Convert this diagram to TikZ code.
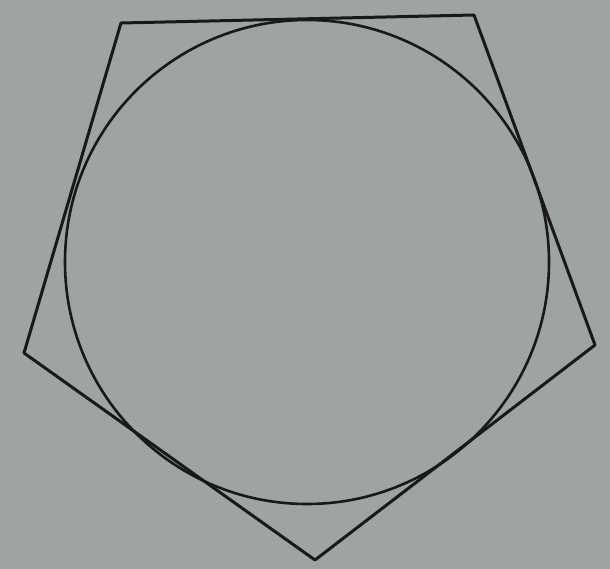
\documentclass[tikz,border=0pt]{standalone}
\begin{document}
\begin{tikzpicture}[x=1pt,y=-1pt,
  ink/.style={draw=black!80!gray, line width=3pt, line join=round}]
\definecolor{paper}{HTML}{9EA4A2}
\fill[paper] (0,0) rectangle (610,569);
\useasboundingbox (0,0) rectangle (610,569);
\coordinate (A) at (121,23);
\coordinate (B) at (474,15);
\coordinate (C) at (595,345);
\coordinate (D) at (315,560);
\coordinate (E) at (24,353);
\coordinate (O) at (307,262);
\draw[ink] (A) -- (B) -- (C) -- (D) -- (E) -- cycle;
\draw[ink, line width=2.6pt] (O) circle[radius=242];
\end{tikzpicture}
\end{document}
